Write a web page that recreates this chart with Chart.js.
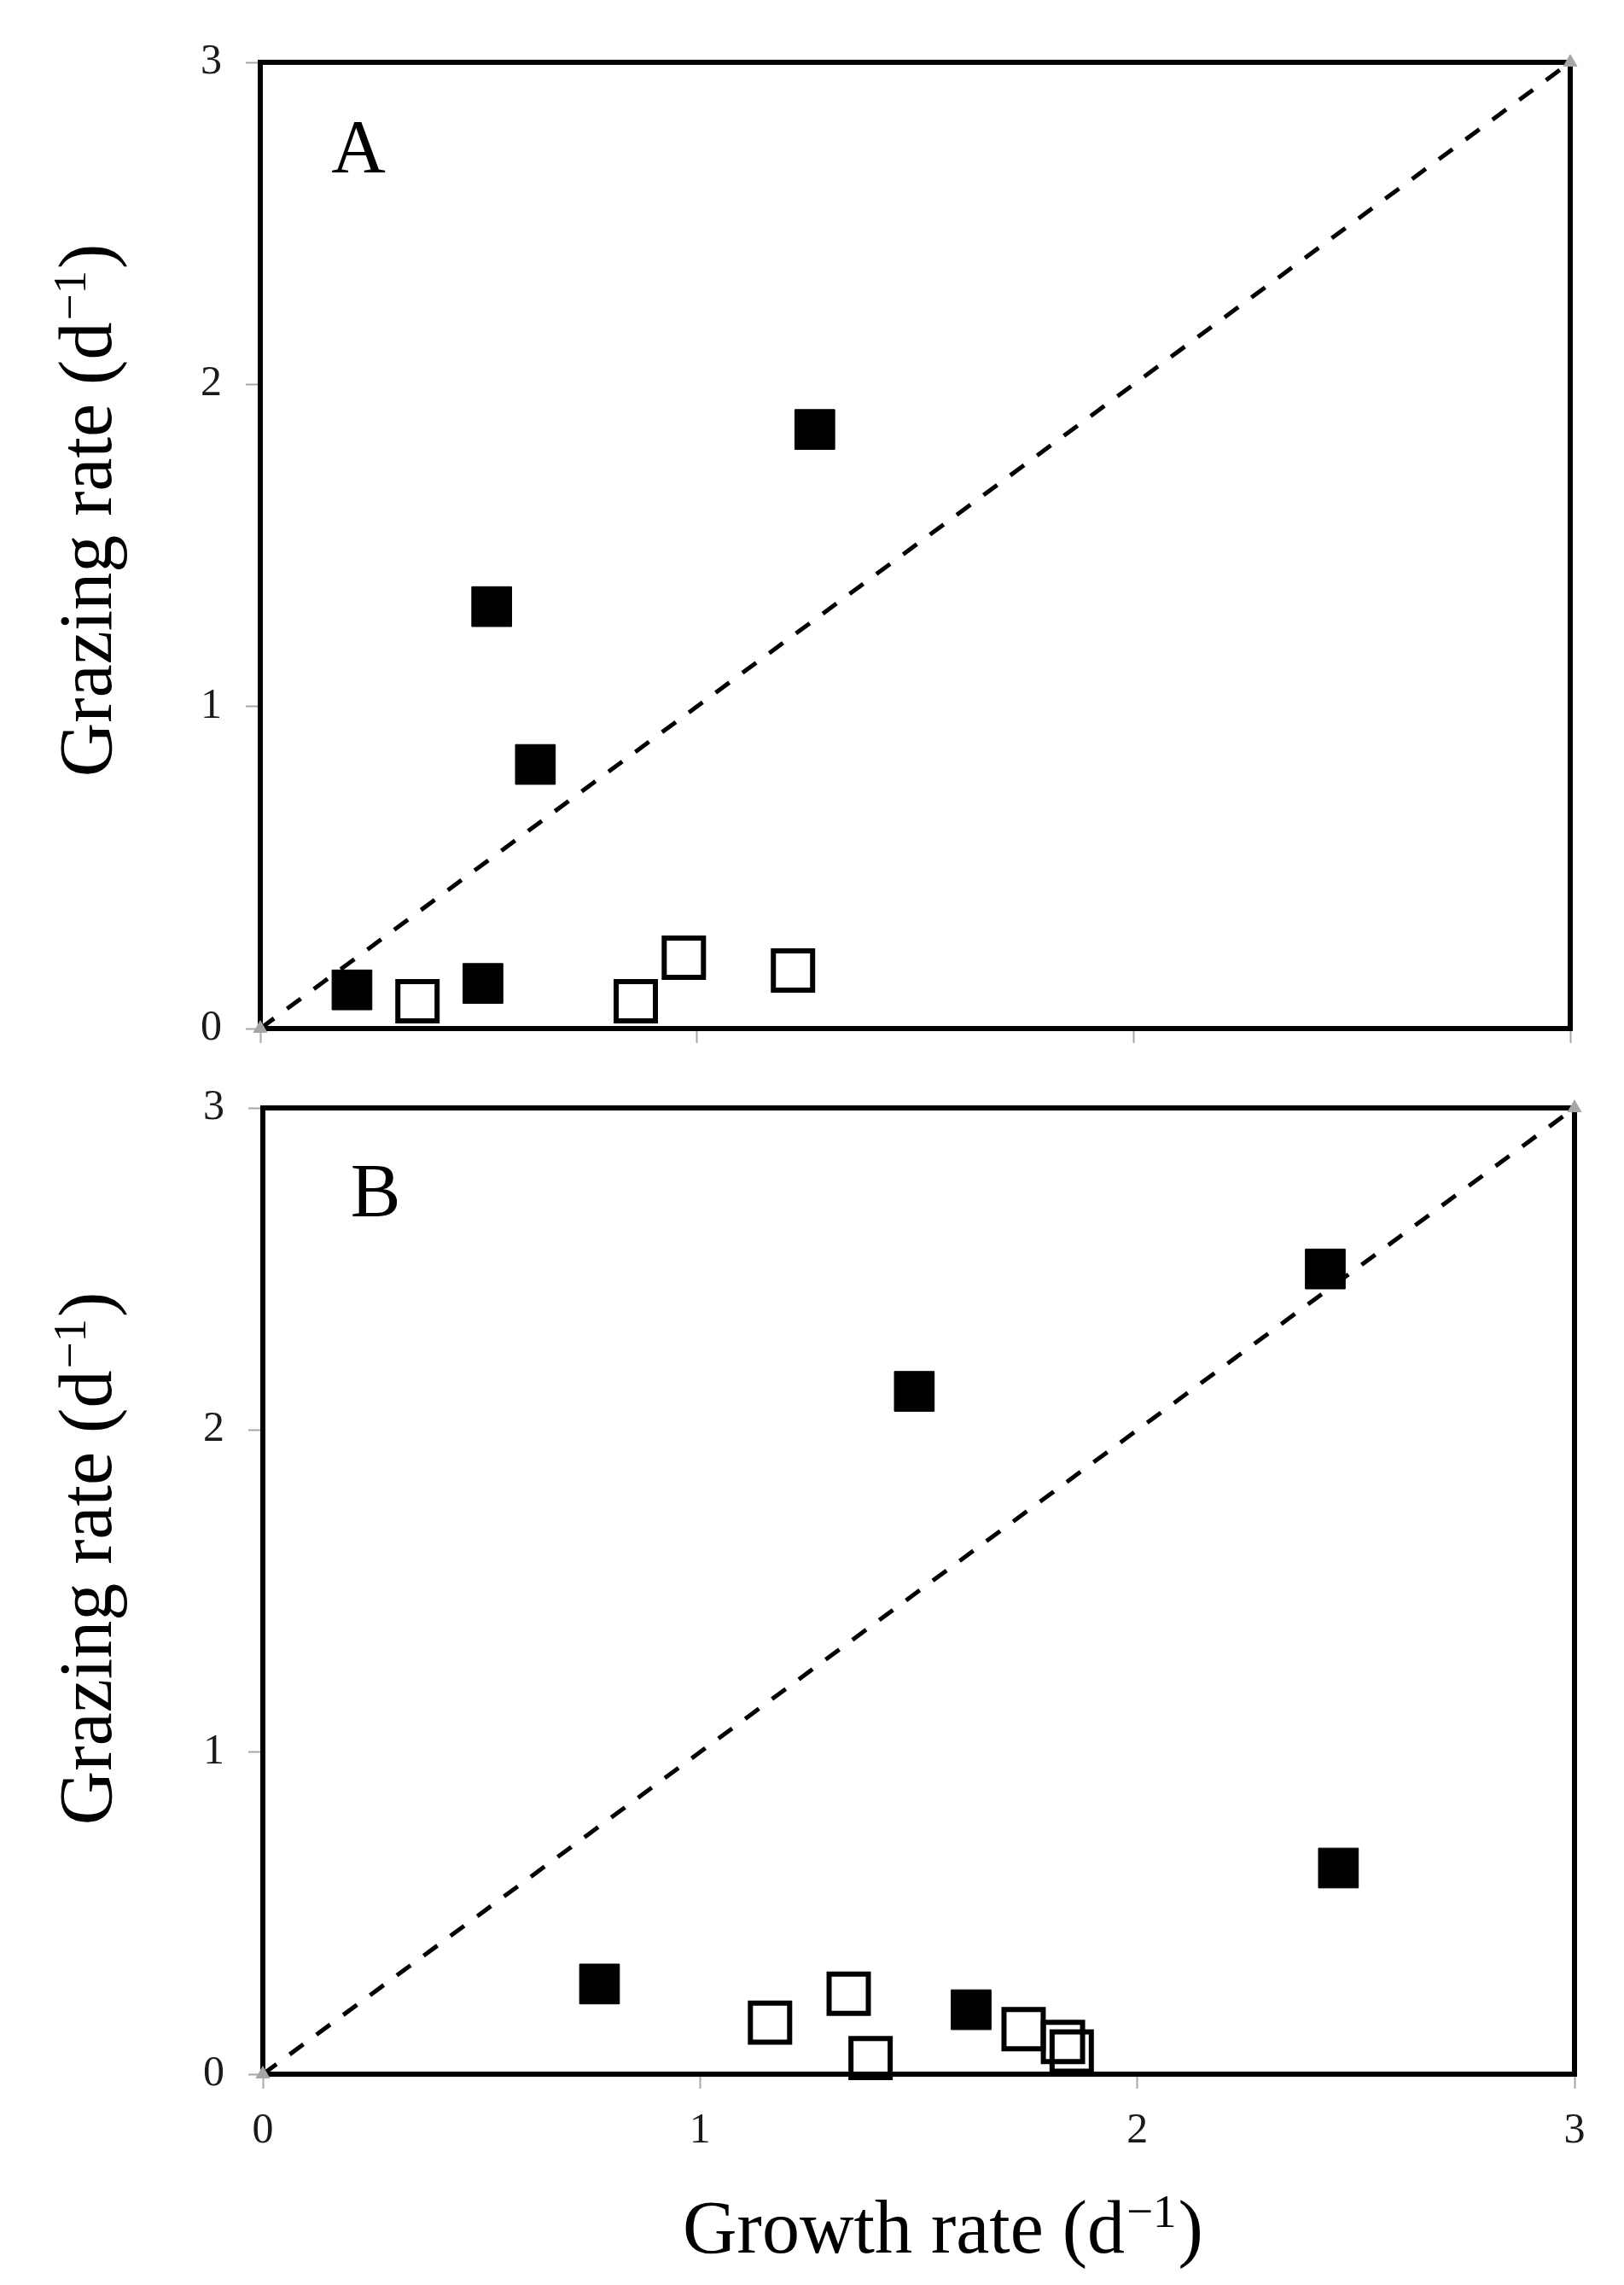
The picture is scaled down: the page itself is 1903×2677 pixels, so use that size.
<!DOCTYPE html>
<html>
<head>
<meta charset="utf-8">
<script src="https://cdn.jsdelivr.net/npm/chart.js@4"></script>
<style>
  html, body { margin: 0; padding: 0; background: #fff; }
  #wrap { position: relative; width: 1903px; height: 2677px; }
  .panel { position: absolute; left: 0; width: 1903px; }
  #panelA { top: 0; height: 1265px; }
  #panelB { top: 1238px; height: 1439px; }
</style>
</head>
<body>
<div id="wrap">
  <div class="panel" id="panelA"><canvas id="chartA"></canvas></div>
  <div class="panel" id="panelB"><canvas id="chartB"></canvas></div>
</div>
<script>
// axis ticks (both axes, both panels)
var axisTicks = [0, 1, 2, 3];
// 1:1 line
var lineX = [0, 3];
var lineY = [0, 3];

// panel A
var aFilledX = [0.21, 0.51, 0.53, 0.63, 1.27];
var aFilledY = [0.12, 0.14, 1.31, 0.82, 1.86];
var aOpenX = [0.36, 0.86, 0.97, 1.22];
var aOpenY = [0.085, 0.085, 0.22, 0.18];

// panel B
var bFilledX = [0.77, 1.49, 1.62, 2.43, 2.46];
var bFilledY = [0.28, 2.12, 0.20, 2.50, 0.64];
var bOpenX = [1.16, 1.34, 1.39, 1.74, 1.83, 1.85];
var bOpenY = [0.16, 0.25, 0.05, 0.14, 0.10, 0.07];

var yTitle = 'Grazing rate (d';
var xTitle = 'Growth rate (d';
var supText = '\u22121';

var serif = "'Liberation Serif', 'Times New Roman', serif";

function zip(xs, ys) {
  return xs.map(function (x, i) { return { x: x, y: ys[i] }; });
}

function makeDatasets(fx, fy, ox, oy) {
  return [
    {
      data: zip(fx, fy),
      pointStyle: 'rect',
      pointRadius: 33,
      backgroundColor: '#000',
      borderColor: '#000',
      borderWidth: 1,
      clip: false
    },
    {
      data: zip(ox, oy),
      pointStyle: 'rect',
      pointRadius: 32.5,
      backgroundColor: 'rgba(0,0,0,0)',
      borderColor: '#000',
      borderWidth: 6,
      clip: false
    },
    {
      type: 'line',
      data: zip(lineX, lineY),
      borderColor: '#000',
      borderWidth: 5,
      borderDash: [20, 19],
      fill: false,
      pointStyle: 'triangle',
      pointRadius: 10,
      pointBackgroundColor: '#a6a6a6',
      pointBorderColor: '#a6a6a6',
      pointBorderWidth: 0,
      clip: false
    }
  ];
}

function makeScales(showXLabels, xHeight, yWidth) {
  var common = {
    type: 'linear',
    min: 0,
    max: 3,
    afterBuildTicks: function (s) {
      s.ticks = axisTicks.map(function (v) { return { value: v }; });
    },
    border: { display: false },
    grid: {
      drawOnChartArea: false,
      drawTicks: true,
      tickLength: 17,
      tickWidth: 2,
      color: '#a6a6a6'
    }
  };
  return {
    x: Object.assign({}, common, {
      ticks: {
        display: showXLabels,
        padding: 20,
        maxRotation: 0,
        color: '#1a1a1a',
        font: { family: serif, size: 50 }
      },
      afterFit: function (s) { s.height = xHeight; }
    }),
    y: Object.assign({}, common, {
      ticks: {
        padding: 28,
        color: '#1a1a1a',
        font: { family: serif, size: 50, lineHeight: 1 }
      },
      afterFit: function (s) { s.width = yWidth; }
    })
  };
}

// black frame round the plot area
var framePlugin = {
  id: 'frame',
  beforeDatasetsDraw: function (chart) {
    var a = chart.chartArea, ctx = chart.ctx;
    ctx.save();
    ctx.strokeStyle = '#000';
    ctx.lineWidth = 6;
    ctx.strokeRect(a.left, a.top, a.right - a.left, a.bottom - a.top);
    ctx.restore();
  }
};

// title with a raised "-1"
function drawSupTitle(ctx, cx, baseY, main, sup, tail) {
  var big = 'normal 88px ' + serif, small = 'normal 55px ' + serif;
  ctx.font = big;
  var w1 = ctx.measureText(main).width, w3 = ctx.measureText(tail).width;
  ctx.font = small;
  var w2 = ctx.measureText(sup).width;
  var x = cx - (w1 + w2 + w3) / 2;
  ctx.textAlign = 'left';
  ctx.textBaseline = 'alphabetic';
  ctx.fillStyle = '#000';
  ctx.font = big;
  ctx.fillText(main, x, baseY);
  ctx.font = small;
  ctx.fillText(sup, x + w1 + 2, baseY - 30);
  ctx.font = big;
  ctx.fillText(tail, x + w1 + w2 + 4, baseY);
}

function textPlugin(letter, letterX, letterY, yCenter, xTitleAt) {
  return {
    id: 'texts',
    afterDraw: function (chart) {
      var ctx = chart.ctx;
      ctx.save();
      ctx.fillStyle = '#000';
      ctx.font = 'normal 88px ' + serif;
      ctx.textAlign = 'center';
      ctx.textBaseline = 'alphabetic';
      ctx.fillText(letter, letterX, letterY);

      ctx.save();
      ctx.translate(130, yCenter);
      ctx.rotate(-Math.PI / 2);
      drawSupTitle(ctx, 0, 0, yTitle, supText, ')');
      ctx.restore();

      if (xTitleAt) {
        drawSupTitle(ctx, xTitleAt[0], xTitleAt[1], xTitle, supText, ')');
      }
      ctx.restore();
    }
  };
}

function makeChart(id, sets, scales, padding, texts) {
  return new Chart(id, {
    type: 'scatter',
    data: { datasets: sets },
    options: {
      responsive: true,
      maintainAspectRatio: false,
      animation: false,
      events: [],
      layout: { padding: padding, autoPadding: false },
      scales: scales,
      plugins: {
        legend: { display: false },
        tooltip: { enabled: false }
      }
    },
    plugins: [framePlugin, texts]
  });
}

var chartA = makeChart('chartA',
  makeDatasets(aFilledX, aFilledY, aOpenX, aOpenY),
  makeScales(false, 60, 305),
  { top: 73, right: 63, left: 0, bottom: 0 },
  textPlugin('A', 420, 201, 600, null));

var chartB = makeChart('chartB',
  makeDatasets(bFilledX, bFilledY, bOpenX, bOpenY),
  makeScales(true, 247, 308),
  { top: 60, right: 58, left: 0, bottom: 0 },
  textPlugin('B', 440, 186, 590, [1103, 1401]));
</script>
</body>
</html>
